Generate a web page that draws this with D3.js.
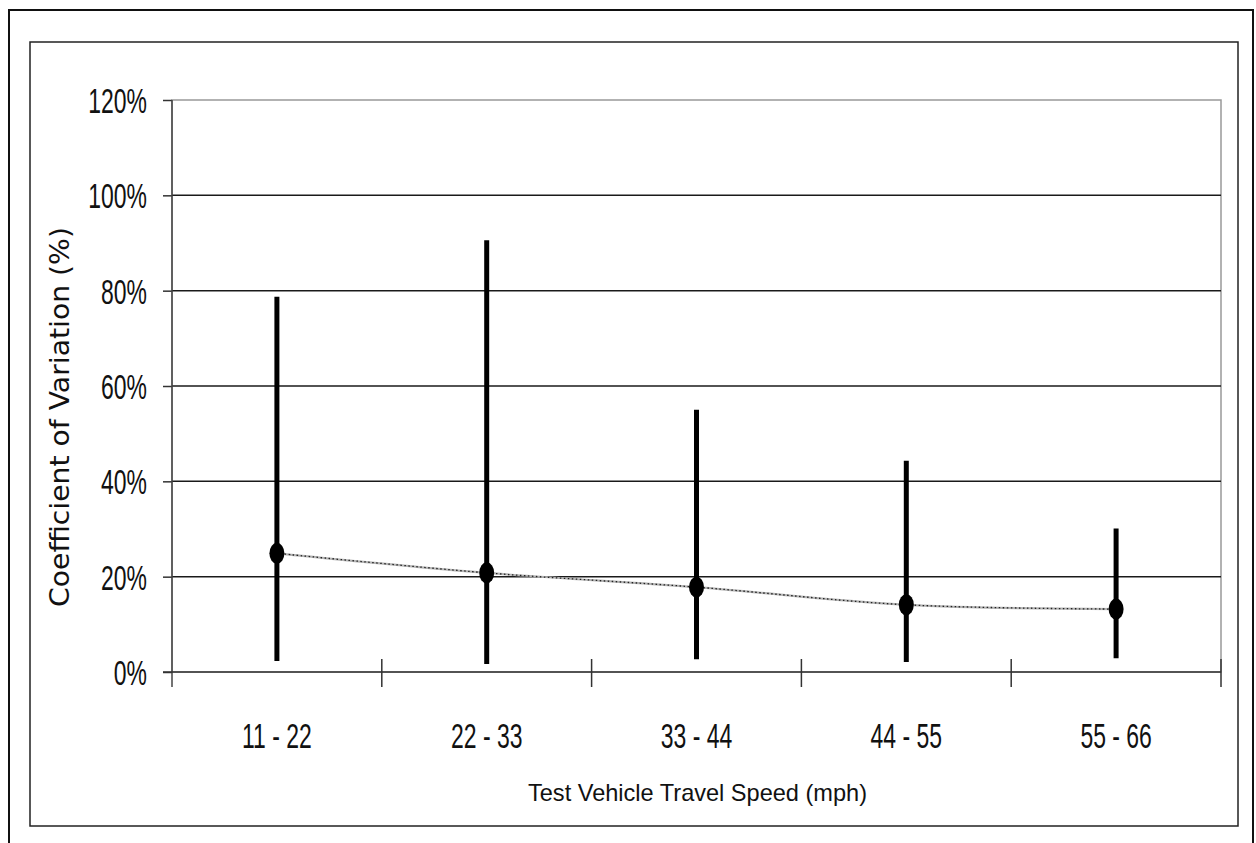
<!DOCTYPE html>
<html>
<head>
<meta charset="utf-8">
<script src="https://cdn.jsdelivr.net/npm/d3@7"></script>
<style>
  html, body { margin: 0; padding: 0; background: #fff; }
  svg { display: block; }
</style>
</head>
<body>
<svg id="chart" width="1256" height="843"></svg>
<script>
// Speed bins and coefficient-of-variation statistics per bin
const categories = ["11 - 22", "22 - 33", "33 - 44", "44 - 55", "55 - 66"];
const meanCV = [0.249, 0.208, 0.178, 0.141, 0.132];
const highCV = [0.787, 0.906, 0.550, 0.443, 0.301];
const lowCV  = [0.023, 0.017, 0.027, 0.021, 0.029];
const yTickValues = [0, 0.2, 0.4, 0.6, 0.8, 1.0, 1.2];

const svg = d3.select("#chart");
const W = 1256, H = 843;

// Frame
svg.append("rect").attr("x", 9).attr("y", 10).attr("width", 1244).attr("height", 850)
  .attr("fill", "none").attr("stroke", "#111").attr("stroke-width", 2);
svg.append("rect").attr("x", 30).attr("y", 42).attr("width", 1208).attr("height", 784)
  .attr("fill", "#fff").attr("stroke", "#222").attr("stroke-width", 1.5);

const plot = { left: 172, right: 1221, top: 100, bottom: 672 };

const x = d3.scaleBand().domain(categories).range([plot.left, plot.right]).padding(0);
const y = d3.scaleLinear().domain([0, 1.2]).range([plot.bottom, plot.top]);

// Plot area border
svg.append("rect")
  .attr("x", plot.left).attr("y", plot.top)
  .attr("width", plot.right - plot.left).attr("height", plot.bottom - plot.top)
  .attr("fill", "none").attr("stroke", "#999").attr("stroke-width", 1.5);

// Horizontal gridlines
svg.append("g").selectAll("line")
  .data(yTickValues.filter(v => v > 0 && v < 1.2))
  .join("line")
  .attr("x1", plot.left).attr("x2", plot.right)
  .attr("y1", d => y(d)).attr("y2", d => y(d))
  .attr("stroke", "#1a1a1a").attr("stroke-width", 1.5);

// Y axis
const yAxis = svg.append("g")
  .attr("transform", `translate(${plot.left},0)`)
  .call(d3.axisLeft(y).tickValues(yTickValues).tickSize(9).tickFormat(d3.format(".0%")));
yAxis.select(".domain").remove();
yAxis.selectAll(".tick line").attr("stroke", "#333").attr("stroke-width", 1.5);
yAxis.selectAll(".tick text")
  .attr("x", null).attr("dy", null)
  .attr("transform", "translate(-25,12.5) scale(0.85,1.3)")
  .attr("text-anchor", "end")
  .attr("fill", "#111")
  .style("font-family", "'Liberation Sans', Arial, sans-serif")
  .style("font-size", "27px");
svg.append("line")
  .attr("x1", plot.left).attr("x2", plot.left)
  .attr("y1", plot.top).attr("y2", plot.bottom + 15)
  .attr("stroke", "#444").attr("stroke-width", 1.5);

// X axis with crossing tick marks at the bin boundaries
svg.append("line")
  .attr("x1", plot.left - 9).attr("x2", plot.right)
  .attr("y1", plot.bottom).attr("y2", plot.bottom)
  .attr("stroke", "#333").attr("stroke-width", 1.5);
const boundaries = categories.slice(1).map(c => x(c)).concat([plot.right]);
svg.append("g").selectAll("line")
  .data(boundaries)
  .join("line")
  .attr("x1", d => d).attr("x2", d => d)
  .attr("y1", plot.bottom - 13).attr("y2", plot.bottom + 15)
  .attr("stroke", "#333").attr("stroke-width", 1.5);

const xAxis = svg.append("g")
  .attr("transform", `translate(0,${plot.bottom})`)
  .call(d3.axisBottom(x).tickSize(0));
xAxis.select(".domain").remove();
xAxis.selectAll(".tick text")
  .attr("y", null).attr("dy", null)
  .attr("transform", "translate(0,76) scale(0.85,1.3)")
  .attr("text-anchor", "middle")
  .attr("fill", "#111")
  .style("font-family", "'Liberation Sans', Arial, sans-serif")
  .style("font-size", "27px");

// Axis titles
svg.append("text")
  .attr("x", (plot.left + plot.right) / 2 + 1).attr("y", 801)
  .attr("text-anchor", "middle")
  .attr("textLength", 339).attr("lengthAdjust", "spacingAndGlyphs")
  .attr("fill", "#111")
  .style("font-family", "'Liberation Sans', Arial, sans-serif")
  .style("font-size", "24px")
  .text("Test Vehicle Travel Speed (mph)");

svg.append("text")
  .attr("transform", "translate(69,417) rotate(-90)")
  .attr("text-anchor", "middle")
  .attr("textLength", 380).attr("lengthAdjust", "spacingAndGlyphs")
  .attr("fill", "#111")
  .style("font-family", "'DejaVu Sans', Verdana, sans-serif")
  .style("font-size", "27px")
  .text("Coefficient of Variation (%)");

const cx = i => x(categories[i]) + x.bandwidth() / 2;

// Range bars (low to high)
svg.append("g").selectAll("line")
  .data(categories)
  .join("line")
  .attr("x1", (d, i) => cx(i)).attr("x2", (d, i) => cx(i))
  .attr("y1", (d, i) => y(lowCV[i])).attr("y2", (d, i) => y(highCV[i]))
  .attr("stroke", "#000").attr("stroke-width", 5);

// Smoothed trend through the means
const line = d3.line()
  .x((d, i) => cx(i))
  .y(d => y(d))
  .curve(d3.curveCatmullRom.alpha(0.5));
svg.append("path").datum(meanCV)
  .attr("d", line).attr("fill", "none")
  .attr("stroke", "#b5b5b5").attr("stroke-width", 2.2);
svg.append("path").datum(meanCV)
  .attr("d", line).attr("fill", "none")
  .attr("stroke", "#222").attr("stroke-width", 1.3)
  .attr("stroke-dasharray", "1.5,2.5");

// Mean markers
svg.append("g").selectAll("ellipse")
  .data(meanCV)
  .join("ellipse")
  .attr("cx", (d, i) => cx(i)).attr("cy", d => y(d))
  .attr("rx", 7.5).attr("ry", 10.5)
  .attr("fill", "#000");
</script>
</body>
</html>
